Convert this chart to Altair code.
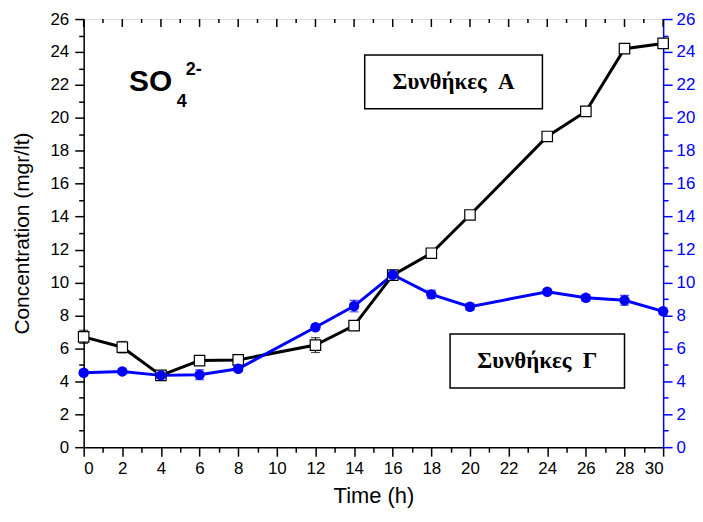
import altair as alt
import pandas as pd

# ---- data ----
time_h = [0, 2, 4, 6, 8, 12, 14, 16, 18, 20, 24, 26, 28, 30]
cond_a = [6.70, 6.07, 4.36, 5.26, 5.30, 6.20, 7.38, 10.45, 11.78, 14.10, 18.87, 20.39, 24.20, 24.52]
cond_a_err = [0.40, 0.35, 0.10, 0.20, 0.30, 0.45, 0.20, 0.15, 0.15, 0.15, 0.15, 0.15, 0.20, 0.20]
cond_g = [4.52, 4.60, 4.36, 4.40, 4.76, 7.28, 8.57, 10.47, 9.28, 8.53, 9.44, 9.07, 8.92, 8.25]
cond_g_err = [0.15, 0.15, 0.15, 0.30, 0.15, 0.15, 0.35, 0.15, 0.25, 0.20, 0.15, 0.20, 0.30, 0.20]

x_ticks_top = list(range(0, 31))

label_a = "Συνθήκες\u00a0\u00a0Α"
label_g = "Συνθήκες\u00a0\u00a0Γ"
box_a = {"x": 14.55, "x2": 23.75, "y": 23.82, "y2": 20.55}
box_g = {"x": 18.97, "x2": 28.0, "y": 6.88, "y2": 3.59}

BLUE = "#0000ff"
FONT = "Liberation Sans"
SERIF = "Liberation Serif"

df_a = pd.DataFrame({"t": time_h, "v": cond_a,
                     "lo": [v - e for v, e in zip(cond_a, cond_a_err)],
                     "hi": [v + e for v, e in zip(cond_a, cond_a_err)]})
df_g = pd.DataFrame({"t": time_h, "v": cond_g,
                     "lo": [v - e for v, e in zip(cond_g, cond_g_err)],
                     "hi": [v + e for v, e in zip(cond_g, cond_g_err)]})

xscale = alt.Scale(domain=[0, 30], nice=False, zero=False)
yscale = alt.Scale(domain=[0, 26], nice=False, zero=False)

tick_size = {"condition": {"test": "datum.value % 2 === 0", "value": 9}, "value": 5}

x_axis = alt.Axis(values=list(range(0, 31)), labelExpr="datum.value % 2 === 0 ? datum.label : ''",
                  tickSize=tick_size, tickColor="black", tickWidth=1.5, domainColor="black",
                  domainWidth=1.5, labelFont=FONT, labelFontSize=17, labelColor="black",
                  labelPadding=4, title="Time (h)", titleFont=FONT, titleFontSize=22,
                  titleFontWeight="normal", titleColor="black", titlePadding=10, grid=False)
y_left = alt.Axis(values=list(range(0, 27)), labelExpr="datum.value % 2 === 0 ? datum.label : ''",
                  tickSize=tick_size, tickColor="black", tickWidth=1.5, domainColor="black",
                  domainWidth=1.5, labelFont=FONT, labelFontSize=17, labelColor="black",
                  labelPadding=6, title="Concentration (mgr/lt)", titleFont=FONT, titleFontSize=21,
                  titleFontWeight="normal", titleColor="black", titlePadding=18, grid=False)
y_right = alt.Axis(orient="right", values=list(range(0, 27)),
                   labelExpr="datum.value % 2 === 0 ? datum.label : ''",
                   tickSize=tick_size, tickColor=BLUE, tickWidth=1.5, domainColor=BLUE,
                   domainWidth=1.5, labelFont=FONT, labelFontSize=17, labelColor=BLUE,
                   labelPadding=4, title=None, grid=False)


def X(field="t"):
    return alt.X(f"{field}:Q", scale=xscale, axis=x_axis)


def Y(field, axis=None):
    return alt.Y(f"{field}:Q", scale=yscale, axis=axis)


base_a = alt.Chart(df_a)
base_g = alt.Chart(df_g)

a_line = base_a.mark_line(color="black", strokeWidth=3).encode(x=X(), y=Y("v", y_left))
a_err = base_a.mark_rule(color="black", strokeWidth=1.2).encode(x=X(), y=Y("lo"), y2="hi:Q")
a_cap_lo = base_a.mark_tick(color="black", orient="horizontal", size=9, thickness=1.2).encode(x=X(), y=Y("lo"))
a_cap_hi = base_a.mark_tick(color="black", orient="horizontal", size=9, thickness=1.2).encode(x=X(), y=Y("hi"))
a_pts = base_a.mark_point(shape="square", size=110, filled=True, fill="white", stroke="black",
                          strokeWidth=1.2, opacity=1).encode(x=X(), y=Y("v"))

g_line = base_g.mark_line(color=BLUE, strokeWidth=3).encode(x=X(), y=Y("v", y_right))
g_err = base_g.mark_rule(color=BLUE, strokeWidth=1.2).encode(x=X(), y=Y("lo"), y2="hi:Q")
g_cap_lo = base_g.mark_tick(color=BLUE, orient="horizontal", size=9, thickness=1.2).encode(x=X(), y=Y("lo"))
g_cap_hi = base_g.mark_tick(color=BLUE, orient="horizontal", size=9, thickness=1.2).encode(x=X(), y=Y("hi"))
g_pts = base_g.mark_circle(size=110, color=BLUE, opacity=1).encode(x=X(), y=Y("v"))

# top inner ticks
df_top = pd.DataFrame({"t": x_ticks_top, "major": [t % 2 == 0 for t in x_ticks_top]})
top_major = alt.Chart(df_top).transform_filter("datum.major").mark_rule(
    color="black", strokeWidth=1.5).encode(x=X(), y=alt.value(0), y2=alt.value(8))
top_minor = alt.Chart(df_top).transform_filter("!datum.major").mark_rule(
    color="black", strokeWidth=1.5).encode(x=X(), y=alt.value(0), y2=alt.value(4))

# annotation boxes
df_boxes = pd.DataFrame([dict(box_a, label=label_a), dict(box_g, label=label_g)])
boxes = alt.Chart(df_boxes).mark_rect(fill="white", stroke="black", strokeWidth=1.5).encode(
    x=X("x"), x2="x2:Q", y=Y("y"), y2="y2:Q")
box_text = alt.Chart(df_boxes).transform_calculate(
    cx="(datum.x + datum.x2) / 2", cy="(datum.y + datum.y2) / 2").mark_text(
    font=SERIF, fontSize=23, fontWeight="bold", color="black", align="center", baseline="middle").encode(
    x=X("cx"), y=Y("cy"), text="label:N")

# SO4 2- label
df_so = pd.DataFrame({"x": [2.35], "y": [21.6]})
so_main = alt.Chart(df_so).mark_text(text="SO", font=FONT, fontSize=30, fontWeight="bold",
                                     color="black", align="left", baseline="alphabetic").encode(
    x=X("x"), y=Y("y"))
so_sub = alt.Chart(df_so).mark_text(text="4", font=FONT, fontSize=18, fontWeight="bold",
                                    color="black", align="left", baseline="alphabetic", dx=48, dy=16).encode(
    x=X("x"), y=Y("y"))
so_sup = alt.Chart(df_so).mark_text(text="2-", font=FONT, fontSize=18, fontWeight="bold",
                                    color="black", align="left", baseline="alphabetic", dx=57, dy=-17).encode(
    x=X("x"), y=Y("y"))

chart = alt.layer(
    a_line, g_line, top_major, top_minor,
    a_err, a_cap_lo, a_cap_hi, a_pts,
    g_err, g_cap_lo, g_cap_hi, g_pts,
    boxes, box_text, so_main, so_sub, so_sup,
).resolve_scale(y="independent").properties(
    width=582, height=430,
).configure_view(stroke="black", strokeWidth=1.5).configure(
    background="white", padding={"left": 3, "top": 1, "right": 0, "bottom": 0})

chart.save("out.html", embed_options={"renderer": "svg", "actions": False})
